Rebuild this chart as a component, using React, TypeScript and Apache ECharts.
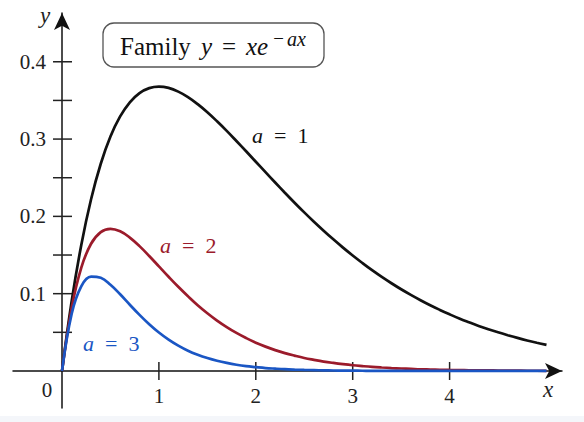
import React, { useEffect, useRef } from "react";
import * as echarts from "echarts";

// values (x step 0.1 from 0 to 5)
const xs = [
  0, 0.1, 0.2, 0.3, 0.4, 0.5, 0.6, 0.7, 0.8, 0.9, 1.0, 1.1, 1.2, 1.3, 1.4, 1.5, 1.6, 1.7, 1.8, 1.9, 2.0,
  2.1, 2.2, 2.3, 2.4, 2.5, 2.6, 2.7, 2.8, 2.9, 3.0, 3.1, 3.2, 3.3, 3.4, 3.5, 3.6, 3.7, 3.8, 3.9, 4.0,
  4.1, 4.2, 4.3, 4.4, 4.5, 4.6, 4.7, 4.8, 4.9, 5.0,
];
const ysA1 = [
  0, 0.0905, 0.1637, 0.2222, 0.2681, 0.3033, 0.3293, 0.3476, 0.3595, 0.3659, 0.3679, 0.3662, 0.3614, 0.3543, 0.3452, 0.3347, 0.323, 0.3106, 0.2975, 0.2842, 0.2707,
  0.2572, 0.2438, 0.2306, 0.2177, 0.2052, 0.1931, 0.1815, 0.1703, 0.1596, 0.1494, 0.1397, 0.1304, 0.1217, 0.1135, 0.1057, 0.0984, 0.0915, 0.085, 0.079, 0.0733,
  0.0679, 0.063, 0.0583, 0.054, 0.05, 0.0463, 0.0428, 0.0395, 0.0365, 0.0337,
];
const ysA2 = [
  0, 0.0819, 0.1341, 0.1646, 0.1797, 0.1839, 0.1807, 0.1726, 0.1615, 0.1488, 0.1353, 0.1219, 0.1089, 0.0967, 0.0851, 0.0747, 0.0652, 0.0568, 0.0492, 0.0426, 0.0366,
  0.0315, 0.027, 0.0231, 0.0198, 0.0168, 0.0144, 0.0122, 0.0104, 0.0088, 0.0074, 0.0063, 0.0053, 0.0045, 0.0038, 0.0032, 0.0027, 0.0022, 0.0019, 0.0016, 0.0013,
  0.0011, 0.0009, 0.0008, 0.0007, 0.0006, 0.0005, 0.0004, 0.0003, 0.0003, 0.0002,
];
const ysA3 = [
  0, 0.0741, 0.1098, 0.122, 0.1205, 0.1116, 0.0992, 0.0857, 0.0726, 0.0605, 0.0498, 0.0406, 0.0328, 0.0262, 0.021, 0.0167, 0.0132, 0.0104, 0.0081, 0.0063, 0.005,
  0.0038, 0.003, 0.0023, 0.0018, 0.0014, 0.0011, 0.0008, 0.0006, 0.0005, 0.0004, 0.0003, 0.0002, 0.0002, 0.0001, 0.0001, 0.0001, 0.0001, 0, 0, 0,
  0, 0, 0, 0, 0, 0, 0, 0, 0, 0,
];

const xTickValues = [1, 2, 3, 4];
const xTickLabels = ["1", "2", "3", "4"];
const yTickValues = [0.05, 0.1, 0.15, 0.2, 0.25, 0.3, 0.35, 0.4];
const yTickLabels = ["", "0.1", "", "0.2", "", "0.3", "", "0.4"];

const seriesNames = ["a = 1", "a = 2", "a = 3"];
const seriesValuesA = ["1", "2", "3"];
const seriesColors = ["#111111", "#9b1b2b", "#1a56c4"];

const SERIF = "'Liberation Serif', 'DejaVu Serif', serif";

export default function App() {
  const ref = useRef<HTMLDivElement>(null);
  useEffect(() => {
    if (!ref.current) return;
    const chart = echarts.init(ref.current, null, { renderer: "svg" });
    const lineSeries = [ysA1, ysA2, ysA3].map((ys, i) => ({
      type: "line",
      name: seriesNames[i],
      data: xs.map((x, j) => [x, ys[j]]),
      smooth: 0.4,
      showSymbol: false,
      clip: false,
      lineStyle: { color: seriesColors[i], width: 2.7 },
      z: 3 + i,
    }));
    const tickStyle = { stroke: "#222", lineWidth: 1.5 };
    const labelFont = { fontFamily: SERIF, fontSize: 21, fill: "#222" };
    const titleFont = { fontFamily: SERIF, fontSize: 25, fill: "#111", verticalAlign: "middle" };
    chart.setOption({
      animation: false,
      backgroundColor: "#ffffff",
      grid: { left: 13, right: 22, top: 13, bottom: 14, containLabel: false, outerBoundsMode: "none" },
      xAxis: {
        type: "value",
        min: -0.5057,
        max: 5.16,
        splitLine: { show: false },
        axisTick: { show: false },
        axisLabel: { show: false },
        axisLine: {
          onZero: true,
          lineStyle: { color: "#111", width: 1.5 },
          symbol: ["none", "arrow"],
          symbolSize: [12, 17],
        },
      },
      yAxis: {
        type: "value",
        min: -0.0479,
        max: 0.4631,
        splitLine: { show: false },
        axisTick: { show: false },
        axisLabel: { show: false },
        axisLine: {
          onZero: true,
          lineStyle: { color: "#111", width: 1.5 },
          symbol: ["none", "arrow"],
          symbolSize: [12, 17],
        },
      },
      series: [
        ...lineSeries,
        {
          type: "custom",
          silent: true,
          data: xTickValues.map((v) => [v, 0]),
          renderItem: (p: any, api: any) => {
            const c = api.coord([api.value(0), api.value(1)]);
            return {
              type: "group",
              children: [
                { type: "line", shape: { x1: c[0], y1: c[1] - 9, x2: c[0], y2: c[1] + 9 }, style: tickStyle },
                {
                  type: "text",
                  x: c[0],
                  y: c[1] + 25,
                  style: { ...labelFont, text: xTickLabels[p.dataIndex], align: "center", verticalAlign: "middle" },
                },
              ],
            };
          },
          z: 1,
        },
        {
          type: "custom",
          silent: true,
          data: yTickValues.map((v) => [0, v]),
          renderItem: (p: any, api: any) => {
            const c = api.coord([api.value(0), api.value(1)]);
            return {
              type: "group",
              children: [
                { type: "line", shape: { x1: c[0] - 9, y1: c[1], x2: c[0] + 10, y2: c[1] }, style: tickStyle },
                {
                  type: "text",
                  x: c[0] - 16,
                  y: c[1],
                  style: { ...labelFont, text: yTickLabels[p.dataIndex], align: "right", verticalAlign: "middle" },
                },
              ],
            };
          },
          z: 1,
        },
      ],
      graphic: [
        { type: "rect", left: 0, top: 416, shape: { width: 584, height: 6 }, style: { fill: "#f4f6fa" }, silent: true },
        {
          type: "rect",
          shape: { x: 103, y: 23, width: 221, height: 44, r: 11 },
          style: { fill: "#fff", stroke: "#555", lineWidth: 1.3 },
        },
        { type: "text", x: 120, y: 46.5, style: { ...titleFont, text: "Family" } },
        { type: "text", x: 201, y: 46.5, style: { ...titleFont, text: "y", fontStyle: "italic" } },
        { type: "text", x: 222, y: 46.5, style: { ...titleFont, text: "=" } },
        { type: "text", x: 246, y: 46.5, style: { ...titleFont, text: "xe", fontStyle: "italic" } },
        { type: "text", x: 272, y: 38.5, style: { ...titleFont, fontSize: 19, text: "\u2212", fontStyle: "italic" } },
        { type: "text", x: 287, y: 38.5, style: { ...titleFont, fontSize: 20, text: "ax", fontStyle: "italic" } },
        {
          type: "text",
          x: 47,
          y: 390,
          style: { text: "0", ...labelFont, align: "center", verticalAlign: "middle" },
        },
        {
          type: "text",
          x: 45,
          y: 15,
          style: { text: "y", fontFamily: SERIF, fontSize: 23, fontStyle: "italic", fill: "#222", align: "center", verticalAlign: "middle" },
        },
        {
          type: "text",
          x: 548,
          y: 389,
          style: { text: "x", fontFamily: SERIF, fontSize: 23, fontStyle: "italic", fill: "#222", align: "center", verticalAlign: "middle" },
        },
        ...[
          { x: 252, y: 135 },
          { x: 160, y: 245 },
          { x: 83, y: 343 },
        ].map((p, i) => ({
          type: "text",
          x: p.x,
          y: p.y,
          style: {
            text: "{i|a}{e|=}{r|" + seriesValuesA[i] + "}",
            verticalAlign: "middle",
            fontFamily: SERIF,
            fontSize: 22,
            fill: seriesColors[i],
            rich: {
              i: { fontFamily: SERIF, fontSize: 22, fontStyle: "italic", fill: seriesColors[i] },
              e: { fontFamily: SERIF, fontSize: 22, fill: seriesColors[i], padding: [0, 11, 0, 11] },
              r: { fontFamily: SERIF, fontSize: 22, fill: seriesColors[i] },
            },
          },
        })),
      ],
    });
    return () => chart.dispose();
  }, []);
  return <div ref={ref} style={{ position: "fixed", left: 0, top: 0, width: 584, height: 422 }} />;
}
